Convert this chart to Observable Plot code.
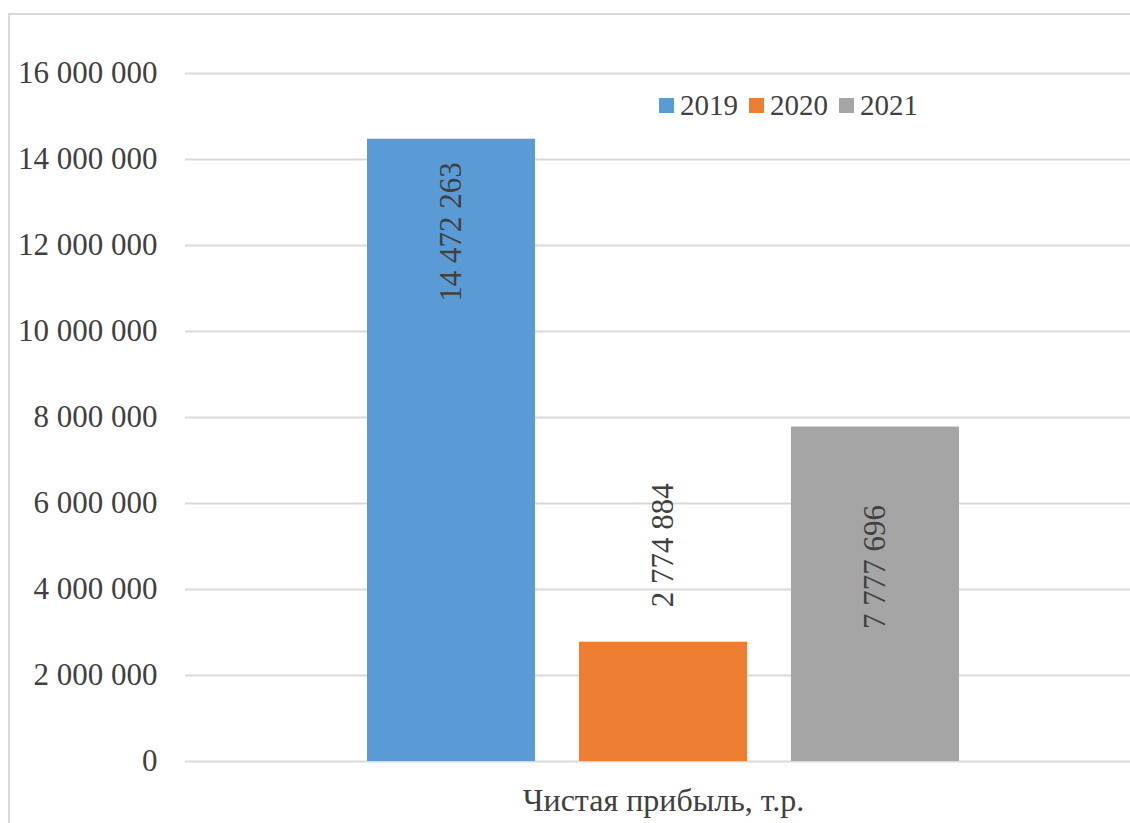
<!DOCTYPE html>
<html>
<head>
<meta charset="utf-8">
<script src="https://cdn.jsdelivr.net/npm/d3@7"></script>
<script src="https://cdn.jsdelivr.net/npm/@observablehq/plot@0.6"></script>
<style>
  html, body { margin: 0; padding: 0; background: #fff; }
  #chart { position: relative; width: 1130px; height: 823px; overflow: hidden; background: #fff;
    font-family: "Liberation Serif", serif; }
  #chart-border { position: absolute; left: 8px; top: 13px; width: 1200px; height: 900px;
    border: 2px solid #d9d9d9; box-sizing: border-box; pointer-events: none; }
  #legend { position: absolute; left: 659px; top: 88px; }
  .lg-swatch { margin-right: 11px !important; }
  .lg-swatch > svg { margin-right: 6px !important; }
</style>
</head>
<body>
<div id="chart">
  <div id="legend"></div>
  <div id="chart-border"></div>
</div>
<script>
// Net profit by year, thousands of roubles
const years = ["2019", "2020", "2021"];
const values = [14472263, 2774884, 7777696];
const seriesColors = ["#5B9BD5", "#ED7D31", "#A5A5A5"];
const yTicks = [0, 2000000, 4000000, 6000000, 8000000, 10000000, 12000000, 14000000, 16000000];
const categoryLabel = "Чистая прибыль, т.р.";

const rows = years.map((year, i) => ({year, value: values[i]}));

// Spaces as thousands separators
const fmt = d3.formatLocale({decimal: ",", thousands: "\u00a0", grouping: [3], currency: ["", ""]}).format(",d");

// Where each value label sits relative to the top of its bar
const labelPlacement = [
  {textAnchor: "end", dy: 23},
  {textAnchor: "start", dy: -35},
  {textAnchor: "end", dy: 78}
];

const font = "Liberation Serif";
const textColor = "#404040";

const color = {domain: years, range: seriesColors};

const labelMarks = rows.map((row, i) => Plot.text([row], {
  x: "year",
  y: "value",
  text: d => fmt(d.value),
  rotate: -90,
  textAnchor: labelPlacement[i].textAnchor,
  lineAnchor: "middle",
  dy: labelPlacement[i].dy,
  fill: textColor,
  fontFamily: font,
  fontSize: 31
}));

const plot = Plot.plot({
  width: 1141,
  height: 823,
  marginLeft: 185,
  marginRight: 0,
  marginTop: 73,
  marginBottom: 62,
  style: {fontSize: "31px", color: textColor, background: "transparent", maxWidth: "none"},
  x: {domain: years, range: [367, 959], paddingInner: 44 / 212, paddingOuter: 0, axis: null},
  y: {domain: [0, 16000000], label: null},
  color,
  marks: [
    Plot.gridY(yTicks, {stroke: "#d9d9d9", strokeOpacity: 1, strokeWidth: 2}),
    Plot.axisY(yTicks, {tickFormat: fmt, tickSize: 0, tickPadding: 28, label: null, fill: textColor,
      fontFamily: font, fontSize: 31}),
    Plot.barY(rows, {x: "year", y: "value", fill: "year"}),
    ...labelMarks,
    Plot.text([categoryLabel], {frameAnchor: "bottom", dy: 39, lineAnchor: "middle", fill: textColor,
      fontFamily: font, fontSize: 32})
  ]
});
document.getElementById("chart").prepend(plot);

const legend = Plot.legend({
  color,
  legend: "swatches",
  swatchSize: 15,
  className: "lg",
  style: {fontFamily: font, fontSize: "29px", color: textColor, lineHeight: "34px"}
});
document.getElementById("legend").append(legend);
</script>
</body>
</html>
